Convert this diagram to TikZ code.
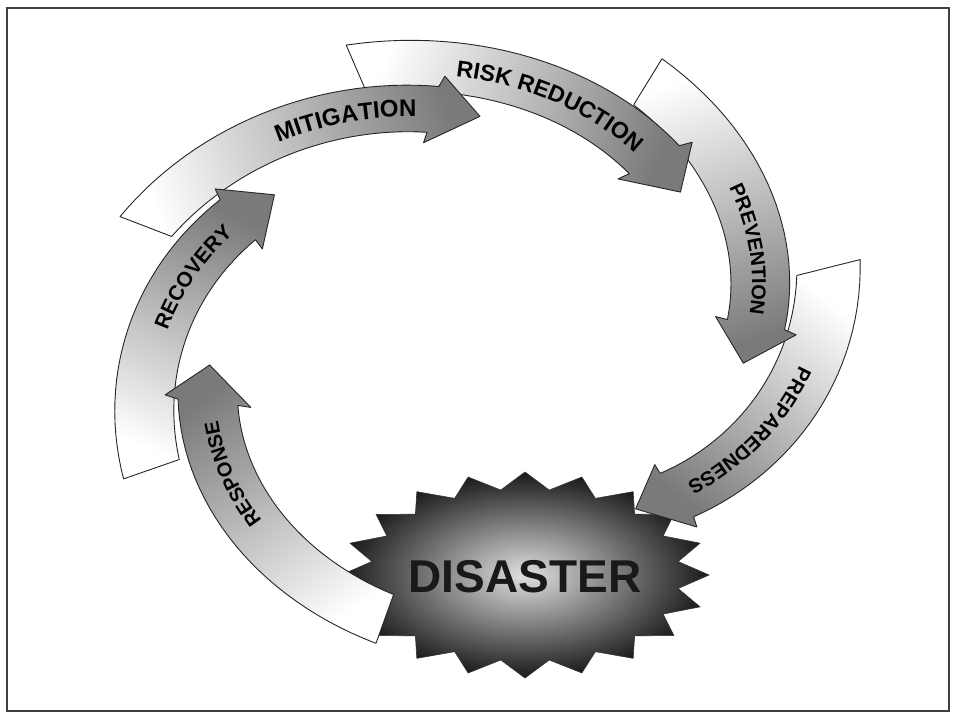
\documentclass[tikz,border=0pt]{standalone}
\usepackage{fontspec}
\setmainfont{Liberation Sans}
\usetikzlibrary{decorations.text}

\tikzset{
  band/.style={draw=black!85, line width=0.9pt, line join=round,
    bottom color=white, top color=black!52},
  burst/.style={draw=black!80, line width=0.6pt,
    inner color=black!12, outer color=black!90},
  frame/.style={draw=black!75, line width=2pt}
}

% curved arrow: tail angle, tail radius, head angle, head radius,
% half width, tip angle, label angle, label size, label
\newcommand{\cyclearrow}[9]{%
  \pgfmathsetmacro{\arrslope}{(#4-#2)/(#3-#1)}
  \pgfmathsetmacro{\arrtip}{#4+\arrslope*(#6-#3)}
  \pgfmathsetmacro{\arrout}{#4+\arrslope*3.3+#5+11}
  \pgfmathsetmacro{\arrin}{#4-\arrslope*3.3-#5-11}
  \pgfmathsetmacro{\arrhi}{#3+2}
  \pgfmathsetmacro{\arrlo}{#3-2}
  \pgfmathsetmacro{\arrshade}{atan2(-(\arrtip*sin(#6)-#2*sin(#1)),1.18*(\arrtip*cos(#6)-#2*cos(#1)))-90}
  \draw[band, shading angle=\arrshade]
    plot[domain=#1:\arrhi, samples=30]
      ({480+1.18*(#2+\arrslope*(\x-#1)+#5)*cos(\x)}, {355+(#2+\arrslope*(\x-#1)+#5)*sin(\x)})
    -- ({480+1.18*\arrout*cos(#3+3.3)}, {355+\arrout*sin(#3+3.3)})
    -- ({480+1.18*\arrtip*cos(#6)}, {355+\arrtip*sin(#6)})
    -- ({480+1.18*\arrin*cos(#3-3.3)}, {355+\arrin*sin(#3-3.3)})
    -- plot[domain=\arrlo:#1, samples=30]
      ({480+1.18*(#2+\arrslope*(\x-#1)-#5)*cos(\x)}, {355+(#2+\arrslope*(\x-#1)-#5)*sin(\x)})
    -- cycle;
  \path[decorate, decoration={text along path, text align=center,
      text={|\fontsize{#8}{#8}\selectfont\bfseries|#9}}]
    plot[domain=#7-35:#7+35, samples=60]
      ({480+1.18*(#2+\arrslope*(\x-#1)-0.36*#8)*cos(\x)}, {355+(#2+\arrslope*(\x-#1)-0.36*#8)*sin(\x)});
}

\begin{document}
\begin{tikzpicture}[x=1pt, y=-1pt]
  \useasboundingbox (0,0) rectangle (960,720);
  \draw[frame] (7,8) rectangle (949,711);

  \draw[burst] plot[samples at={0,...,39}]
    ({525+(isodd(\x)?155:184)*cos(9*\x)}, {575+(isodd(\x)?86:103)*sin(9*\x)}) -- cycle;
  \node[font=\fontsize{46}{46}\selectfont\bfseries, text=black!90] (disaster) at (525,577) {DISASTER};

  \cyclearrow{343.5}{308}{399.8}{218}{28}{409.4}{380.6}{20}{PREPAREDNESS}
  \cyclearrow{297.5}{308}{352.4}{236}{26}{362.1}{338.5}{20}{PREVENTION}
  \cyclearrow{249.9}{304}{306.9}{245}{26}{316.2}{287}{23}{RISK REDUCTION}
  \cyclearrow{204.4}{311}{260.6}{249}{24}{270}{245.9}{24}{MITIGATION}
  \cyclearrow{157.7}{301}{213.2}{246}{25.5}{222.6}{198.4}{21}{RECOVERY}
  \cyclearrow{107}{276}{168.2}{235.5}{25.5}{177.5}{153.2}{20}{RESPONSE}
\end{tikzpicture}
\end{document}
